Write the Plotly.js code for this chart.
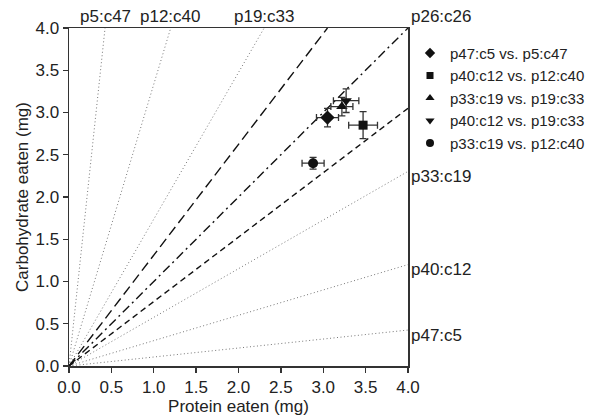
<!DOCTYPE html>
<html>
<head>
<meta charset="utf-8">
<script src="https://cdn.plot.ly/plotly-3.0.1.min.js"></script>
<style>html,body{margin:0;padding:0;background:#fff}#chart{width:590px;height:417px}</style>
</head>
<body>
<div id="chart"></div>
<script>
// Dotted reference rails (protein:carbohydrate ratios)
const railProtein = [5, 12, 19, 33, 40, 47];
const railCarb    = [47, 40, 33, 19, 12, 5];
const railLabels  = ['p5:c47', 'p12:c40', 'p19:c33', 'p33:c19', 'p40:c12', 'p47:c5'];

// Dashed / dash-dot lines (end points on the frame)
const dashLabels = ['upper', 'p26:c26', 'lower'];
const dashEndX   = [3.05, 4.0, 4.0];
const dashEndY   = [4.0, 4.0, 3.05];

// Data points
const seriesNames = ['p47:c5 vs. p5:c47', 'p40:c12 vs. p12:c40', 'p33:c19 vs. p19:c33', 'p40:c12 vs. p19:c33', 'p33:c19 vs. p12:c40'];
const proteinMean = [3.05, 3.47, 3.22, 3.27, 2.88];
const proteinErr  = [0.13, 0.17, 0.13, 0.15, 0.13];
const carbMean    = [2.94, 2.85, 3.07, 3.14, 2.40];
const carbErr     = [0.11, 0.16, 0.11, 0.14, 0.07];

const symbols = ['diamond', 'square', 'triangle-up', 'triangle-down', 'circle'];
const sizes = [11, 9, 10, 10, 10];
const legendSizes = [8, 7, 8, 8, 8];
const MAX = 4;
const FS = 17;

const traces = [];
const annotations = [];

railProtein.forEach((p, i) => {
  const c = railCarb[i];
  const s = MAX / Math.max(p, c);
  const ex = p * s, ey = c * s;
  traces.push({x: [0, ex], y: [0, ey], mode: 'lines', showlegend: false, hoverinfo: 'skip',
    line: {color: '#777', width: 1, dash: '1px,2.5px'}});
  if (c > p) {
    annotations.push({x: ex, y: ey, xref: 'x', yref: 'y', text: railLabels[i], showarrow: false,
      xanchor: 'center', yanchor: 'bottom', yshift: 0, font: {size: FS}});
  } else {
    annotations.push({x: ex, y: ey, xref: 'x', yref: 'y', text: railLabels[i], showarrow: false,
      xanchor: 'left', yanchor: 'middle', xshift: 1, yshift: -5, font: {size: FS}});
  }
});

const dashStyles = ['10px,5px', '9px,4px,2px,4px', '6px,4px'];
dashLabels.forEach((lab, i) => {
  traces.push({x: [0, dashEndX[i]], y: [0, dashEndY[i]], mode: 'lines', showlegend: false, hoverinfo: 'skip',
    line: {color: '#111', width: 1.4, dash: dashStyles[i]}});
});
annotations.push({x: dashEndX[1], y: dashEndY[1], xref: 'x', yref: 'y', text: dashLabels[1], showarrow: false,
  xanchor: 'left', yanchor: 'bottom', xshift: 1, yshift: 0, font: {size: FS}});

seriesNames.forEach((n, i) => {
  traces.push({
    x: [proteinMean[i]], y: [carbMean[i]], name: n, mode: 'markers', type: 'scatter', showlegend: false,
    marker: {symbol: symbols[i], size: sizes[i], color: '#111'},
    error_x: {type: 'data', array: [proteinErr[i]], color: '#333', thickness: 1.3, width: 3.5},
    error_y: {type: 'data', array: [carbErr[i]], color: '#333', thickness: 1.3, width: 3.5}
  });
});
// legend entries with small symbols (no visible points)
seriesNames.forEach((n, i) => {
  traces.push({
    x: [null], y: [null], name: n, mode: 'markers', type: 'scatter', showlegend: true,
    marker: {symbol: symbols[i], size: legendSizes[i], color: '#111'}
  });
});

const axisCommon = {
  range: [0, 4], dtick: 0.5, tickformat: '.1f', ticks: 'outside', ticklen: 5, tickwidth: 1.3,
  tickcolor: '#333', showline: true, linecolor: '#333', linewidth: 1.5, mirror: true,
  showgrid: false, zeroline: false, tickfont: {size: FS, color: '#222'}, fixedrange: true
};

const layout = {
  width: 590, height: 417,
  margin: {l: 69, r: 182, t: 28, b: 51},
  paper_bgcolor: '#fff', plot_bgcolor: '#fff',
  font: {family: 'Liberation Sans, Arial, sans-serif', color: '#222', size: FS},
  xaxis: Object.assign({}, axisCommon, {title: {text: 'Protein eaten (mg)', font: {size: FS}, standoff: 1}}),
  yaxis: Object.assign({}, axisCommon, {title: {text: 'Carbohydrate eaten (mg)', font: {size: FS}, standoff: 2}}),
  legend: {xref: 'container', yref: 'container', x: 1, y: 0.912, xanchor: 'right', yanchor: 'top',
    font: {size: 15}, itemwidth: 30, bgcolor: 'rgba(0,0,0,0)', tracegroupgap: 0},
  annotations: annotations,
  showlegend: true
};

Plotly.newPlot('chart', traces, layout, {displayModeBar: false, staticPlot: true});
</script>
</body>
</html>
